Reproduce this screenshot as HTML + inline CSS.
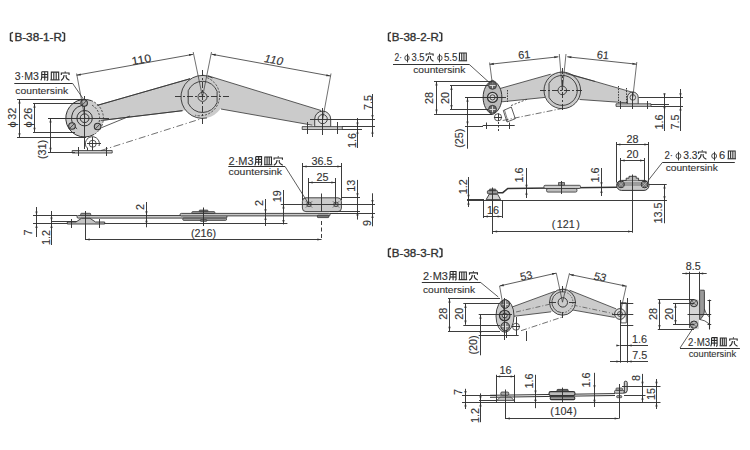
<!DOCTYPE html>
<html><head><meta charset="utf-8"><style>
html,body{margin:0;padding:0;background:#fff;width:750px;height:450px;overflow:hidden}
svg{display:block}
text{font-family:"Liberation Sans", sans-serif;stroke:#333;stroke-width:0.12px}
</style></head><body>
<svg width="750" height="450" viewBox="0 0 750 450">
<rect width="750" height="450" fill="#fff"/>
<path d="M13,32.4 L10.5,33.4 L10.5,40.4 L13,41.4" fill="none" stroke="#333" stroke-width="1.5" />
<text x="14.4" y="41.2" font-size="11.5" fill="#333" textLength="47.6" lengthAdjust="spacingAndGlyphs" style="stroke-width:0.35px">B-38-1-R</text>
<path d="M62,32.4 L64.5,33.4 L64.5,40.4 L62,41.4" fill="none" stroke="#333" stroke-width="1.5" />
<text x="14.8" y="79.9" font-size="10.6" text-anchor="start" fill="#333" textLength="24" lengthAdjust="spacingAndGlyphs">3·M3</text>
<path d="M0.14,0.04 L0.14,0.6 Q0.14,0.85 0.02,0.98" transform="translate(40.6 71.4) scale(8.1 9.2)" fill="none" stroke="#2a2a2a" stroke-width="1.1" vector-effect="non-scaling-stroke"/>
<path d="M0.14,0.04 L0.88,0.04 L0.88,0.9 Q0.88,0.97 0.74,0.96" transform="translate(40.6 71.4) scale(8.1 9.2)" fill="none" stroke="#2a2a2a" stroke-width="1.1" vector-effect="non-scaling-stroke"/>
<path d="M0.51,0.04 L0.51,0.98" transform="translate(40.6 71.4) scale(8.1 9.2)" fill="none" stroke="#2a2a2a" stroke-width="1.1" vector-effect="non-scaling-stroke"/>
<path d="M0.14,0.34 L0.88,0.34" transform="translate(40.6 71.4) scale(8.1 9.2)" fill="none" stroke="#2a2a2a" stroke-width="1.1" vector-effect="non-scaling-stroke"/>
<path d="M0.14,0.63 L0.88,0.63" transform="translate(40.6 71.4) scale(8.1 9.2)" fill="none" stroke="#2a2a2a" stroke-width="1.1" vector-effect="non-scaling-stroke"/>
<path d="M0.1,0.9 L0.1,0.08 L0.9,0.08 L0.9,0.9" transform="translate(50.4 71.4) scale(9.2 9.2)" fill="none" stroke="#2a2a2a" stroke-width="1.1" vector-effect="non-scaling-stroke"/>
<path d="M0.37,0.08 L0.37,0.9" transform="translate(50.4 71.4) scale(9.2 9.2)" fill="none" stroke="#2a2a2a" stroke-width="1.1" vector-effect="non-scaling-stroke"/>
<path d="M0.63,0.08 L0.63,0.9" transform="translate(50.4 71.4) scale(9.2 9.2)" fill="none" stroke="#2a2a2a" stroke-width="1.1" vector-effect="non-scaling-stroke"/>
<path d="M0.0,0.92 L1.0,0.92" transform="translate(50.4 71.4) scale(9.2 9.2)" fill="none" stroke="#2a2a2a" stroke-width="1.1" vector-effect="non-scaling-stroke"/>
<path d="M0.5,0.0 L0.5,0.14" transform="translate(60.8 71.4) scale(8.8 9.2)" fill="none" stroke="#2a2a2a" stroke-width="1.1" vector-effect="non-scaling-stroke"/>
<path d="M0.06,0.38 L0.06,0.18 L0.94,0.18 L0.94,0.38" transform="translate(60.8 71.4) scale(8.8 9.2)" fill="none" stroke="#2a2a2a" stroke-width="1.1" vector-effect="non-scaling-stroke"/>
<path d="M0.38,0.4 Q0.36,0.8 0.03,0.98" transform="translate(60.8 71.4) scale(8.8 9.2)" fill="none" stroke="#2a2a2a" stroke-width="1.1" vector-effect="non-scaling-stroke"/>
<path d="M0.6,0.4 L0.6,0.62 Q0.62,0.8 0.98,0.97" transform="translate(60.8 71.4) scale(8.8 9.2)" fill="none" stroke="#2a2a2a" stroke-width="1.1" vector-effect="non-scaling-stroke"/>
<line x1="14.3" y1="83.5" x2="72.4" y2="83.5" stroke="#333" stroke-width="1"/>
<line x1="72.4" y1="83.1" x2="84" y2="100" stroke="#333" stroke-width="0.8"/>
<text x="15.3" y="93.8" font-size="9.8" text-anchor="start" fill="#333" textLength="52.8" lengthAdjust="spacingAndGlyphs">countersink</text>
<polygon points="85,108.87 202,75.29 202,108.34 85,122.38" fill="#cbcbcb" stroke="none" stroke-width="0"/>
<line x1="97.1" y1="105.4" x2="190" y2="78.74" stroke="#333" stroke-width="0.8"/>
<line x1="100.7" y1="120.5" x2="182.5" y2="110.68" stroke="#333" stroke-width="0.8"/>
<polygon points="202,73.94 322,110.78 322,126.9 202,105.66" fill="#cbcbcb" stroke="none" stroke-width="0"/>
<circle cx="84.6" cy="118.2" r="18.8" fill="#cbcbcb" stroke="none" stroke-width="0"/>
<path d="M91.03,100.53 A18.8,18.8 0 1 0 94.00,134.48" fill="none" stroke="#333" stroke-width="1.0" />
<line x1="97.1" y1="105.4" x2="190" y2="78.74" stroke="#333" stroke-width="0.8"/>
<line x1="100.7" y1="120.5" x2="182.5" y2="110.68" stroke="#333" stroke-width="0.8"/>
<path d="M91.03,100.53 A18.8,18.8 0 0 1 94.00,134.48" fill="none" stroke="#333" stroke-width="0.8" stroke-dasharray="2.2,1.4" />
<path d="M81.24,105.64 A13,13 0 0 0 77.14,128.85" fill="none" stroke="#333" stroke-width="1.0" />
<path d="M92.10,105.21 A15,15 0 0 1 97.59,125.70" fill="none" stroke="#333" stroke-width="0.9" stroke-dasharray="2,1.5" />
<circle cx="84.6" cy="118.2" r="7.7" fill="none" stroke="#333" stroke-width="1.0"/>
<circle cx="84.6" cy="118.2" r="4.4" fill="none" stroke="#333" stroke-width="1.0"/>
<line x1="48" y1="118.5" x2="109" y2="118.5" stroke="#333" stroke-width="0.95"/>
<line x1="84.5" y1="96" x2="84.5" y2="149" stroke="#333" stroke-width="0.95"/>
<circle cx="84.1" cy="103.1" r="3.3" fill="#b0b0b0" stroke="#333" stroke-width="1.1"/>
<line x1="81.9" y1="105.3" x2="86.3" y2="100.9" stroke="#333" stroke-width="0.8"/>
<circle cx="72" cy="126" r="3.3" fill="#b0b0b0" stroke="#333" stroke-width="1.1"/>
<line x1="69.8" y1="128.2" x2="74.2" y2="123.8" stroke="#333" stroke-width="0.8"/>
<circle cx="97.6" cy="126.5" r="3.3" fill="#b0b0b0" stroke="#333" stroke-width="1.1"/>
<line x1="95.4" y1="128.7" x2="99.8" y2="124.3" stroke="#333" stroke-width="0.8"/>
<path d="M86.5,147.5 A7,7 0 1 1 99,146" fill="none" stroke="#333" stroke-width="0.9" />
<circle cx="92.7" cy="143.7" r="3.5" fill="none" stroke="#333" stroke-width="0.8"/>
<line x1="87" y1="143.5" x2="101" y2="143.5" stroke="#333" stroke-width="0.95"/>
<line x1="92.5" y1="137" x2="92.5" y2="153" stroke="#333" stroke-width="0.95"/>
<line x1="87.5" y1="147.5" x2="87.5" y2="151" stroke="#333" stroke-width="0.95"/>
<polygon points="72.2,150.5 112.2,150.5 112.2,153 72.2,153" fill="#cbcbcb" stroke="#333" stroke-width="0.8"/>
<line x1="78.5" y1="147" x2="78.5" y2="156" stroke="#333" stroke-width="0.95"/>
<line x1="106.5" y1="147" x2="106.5" y2="156" stroke="#333" stroke-width="0.95"/>
<line x1="101" y1="150.5" x2="202" y2="118.5" stroke="#333" stroke-width="0.7" stroke-dasharray="7,2.5,1.2,2.5"/>
<line x1="101.5" y1="127.7" x2="130" y2="116" stroke="#333" stroke-width="0.8"/>
<circle cx="202.5" cy="96.9" r="21.5" fill="#cbcbcb" stroke="none" stroke-width="0"/>
<path d="M212.59,77.92 A21.5,21.5 0 1 0 206.97,117.93" fill="none" stroke="#333" stroke-width="0.9" />
<path d="M207.27,77.79 A19.7,19.7 0 0 1 195.12,115.17" fill="none" stroke="#333" stroke-width="0.8" stroke-dasharray="2.2,1.4" />
<line x1="208" y1="75.79" x2="321" y2="110.48" stroke="#333" stroke-width="0.8"/>
<line x1="221" y1="109.02" x2="312.4" y2="125.2" stroke="#333" stroke-width="0.8"/>
<path d="M188.20,90.67 A15.6,15.6 0 0 1 217.10,91.40 L217.10,102.40 A15.6,15.6 0 0 1 188.20,103.13 Z" fill="none" stroke="#333" stroke-width="0.9" />
<circle cx="202.5" cy="96.9" r="4.5" fill="none" stroke="#333" stroke-width="0.9"/>
<line x1="175" y1="96.5" x2="229" y2="96.5" stroke="#333" stroke-width="0.95" stroke-dasharray="6,2,2,2"/>
<line x1="202.5" y1="70" x2="202.5" y2="124" stroke="#333" stroke-width="0.95" stroke-dasharray="6,2,2,2"/>
<path d="M314.7,127 L314.7,119.1 A8,8 0 0 1 330.7,119.1 L330.7,127 Z" fill="#ddd" stroke="#333" stroke-width="0.9" />
<circle cx="322.7" cy="119.1" r="4.6" fill="none" stroke="#333" stroke-width="0.9"/>
<polygon points="302.2,126.6 342.3,126.6 342.3,129.5 302.2,129.5" fill="#cbcbcb" stroke="#333" stroke-width="0.8"/>
<line x1="307.5" y1="122" x2="307.5" y2="134" stroke="#333" stroke-width="0.95"/>
<line x1="337.5" y1="122" x2="337.5" y2="134" stroke="#333" stroke-width="0.95"/>
<line x1="322.5" y1="108" x2="322.5" y2="135" stroke="#333" stroke-width="0.95"/>
<line x1="76.6" y1="75.2" x2="193.2" y2="54.3" stroke="#333" stroke-width="0.8"/>
<polygon points="76.6,75.2 80.54,73.38 80.93,75.54" fill="#333"/>
<polygon points="193.2,54.3 189.26,56.12 188.87,53.96" fill="#333"/>
<line x1="76.6" y1="73.5" x2="85" y2="118.4" stroke="#333" stroke-width="0.7"/>
<line x1="193.2" y1="52" x2="202.5" y2="96.9" stroke="#333" stroke-width="0.7"/>
<line x1="211.5" y1="52" x2="202.5" y2="96.9" stroke="#333" stroke-width="0.7"/>
<line x1="331" y1="73.5" x2="322.7" y2="119.1" stroke="#333" stroke-width="0.7"/>
<line x1="211.5" y1="54.2" x2="330.5" y2="76" stroke="#333" stroke-width="0.8"/>
<polygon points="211.5,54.2 215.83,53.87 215.43,56.04" fill="#333"/>
<polygon points="330.5,76 326.17,76.33 326.57,74.16" fill="#333"/>
<text x="0" y="0" font-size="11" fill="#333" text-anchor="middle" transform="translate(142 63.2) rotate(-10.2) scale(1.12 1)">110</text>
<text x="0" y="0" font-size="11" fill="#333" text-anchor="middle" transform="translate(272.6 63.4) rotate(10.6) skewX(-9) scale(1.08 1)">110</text>
<line x1="17" y1="99.5" x2="86" y2="99.5" stroke="#333" stroke-width="0.95"/>
<line x1="17" y1="137.5" x2="86" y2="137.5" stroke="#333" stroke-width="0.95"/>
<line x1="19.5" y1="99.4" x2="19.5" y2="137.4" stroke="#333" stroke-width="0.95"/>
<polygon points="19.5,99.4 20.6,103.6 18.4,103.6" fill="#333"/>
<polygon points="19.5,137.4 18.4,133.2 20.6,133.2" fill="#333"/>
<text x="0" y="0" font-size="10.1" text-anchor="middle" fill="#333" transform="translate(16.3 117.6) rotate(-90) scale(1.07 1)" >ϕ<tspan dx="1.6">32</tspan></text>
<line x1="33" y1="103.5" x2="80" y2="103.5" stroke="#333" stroke-width="0.95"/>
<line x1="33" y1="132.5" x2="75" y2="132.5" stroke="#333" stroke-width="0.95"/>
<line x1="34.5" y1="103.5" x2="34.5" y2="131.9" stroke="#333" stroke-width="0.95"/>
<polygon points="34.5,103.5 35.6,107.7 33.4,107.7" fill="#333"/>
<polygon points="34.5,131.9 33.4,127.7 35.6,127.7" fill="#333"/>
<text x="0" y="0" font-size="10.1" text-anchor="middle" fill="#333" transform="translate(31.5 117.6) rotate(-90) scale(1.07 1)" >ϕ<tspan dx="1.6">26</tspan></text>
<line x1="48" y1="118.5" x2="70" y2="118.5" stroke="#333" stroke-width="0.95"/>
<line x1="48" y1="152.5" x2="75" y2="152.5" stroke="#333" stroke-width="0.95"/>
<line x1="50.5" y1="118.3" x2="50.5" y2="152" stroke="#333" stroke-width="0.95"/>
<polygon points="50.5,118.3 51.6,122.5 49.4,122.5" fill="#333"/>
<polygon points="50.5,152 49.4,147.8 51.6,147.8" fill="#333"/>
<text x="0" y="0" font-size="10.1" text-anchor="middle" fill="#333" transform="translate(46.4 149.5) rotate(-90) scale(1.07 1)" >(31)</text>
<line x1="310" y1="119.5" x2="375" y2="119.5" stroke="#333" stroke-width="0.95"/>
<line x1="342" y1="126.5" x2="375" y2="126.5" stroke="#333" stroke-width="0.95"/>
<line x1="342" y1="129.5" x2="362" y2="129.5" stroke="#333" stroke-width="0.95"/>
<line x1="372.5" y1="94" x2="372.5" y2="137" stroke="#333" stroke-width="0.95"/>
<polygon points="372.5,119.1 371.4,114.9 373.6,114.9" fill="#333"/>
<polygon points="372.5,129.5 373.6,133.7 371.4,133.7" fill="#333"/>
<text x="0" y="0" font-size="10.1" text-anchor="middle" fill="#333" transform="translate(372.2 102.5) rotate(-90) scale(1.07 1)" >7.5</text>
<line x1="357.5" y1="118" x2="357.5" y2="148" stroke="#333" stroke-width="0.95"/>
<polygon points="357.5,126.6 356.4,122.4 358.6,122.4" fill="#333"/>
<polygon points="357.5,129.5 358.6,133.7 356.4,133.7" fill="#333"/>
<text x="0" y="0" font-size="10.1" text-anchor="middle" fill="#333" transform="translate(355.5 140.5) rotate(-90) scale(1.07 1)" >1.6</text>
<rect x="77" y="215.5" width="150" height="2.6" rx="1.2" fill="#c8c8c8" stroke="#333" stroke-width="0.9"/>
<line x1="33" y1="215.5" x2="77" y2="215.5" stroke="#333" stroke-width="0.95"/>
<line x1="33" y1="223.5" x2="287.4" y2="223.5" stroke="#333" stroke-width="0.95"/>
<line x1="51.6" y1="221.5" x2="77" y2="221.5" stroke="#333" stroke-width="0.95"/>
<path d="M67.3,224 L67.3,222 L76,222 L81.5,218.3 L90,218.3 L95.5,222 L104.7,222 L104.7,224 Z" fill="#c4c4c4" stroke="#333" stroke-width="0.9" />
<rect x="80.7" y="213.3" width="10" height="2.3" rx="0.8" fill="#999" stroke="#333" stroke-width="0.8"/>
<line x1="71.5" y1="219" x2="71.5" y2="228" stroke="#333" stroke-width="0.95"/>
<line x1="99.5" y1="219" x2="99.5" y2="228" stroke="#333" stroke-width="0.95"/>
<line x1="85.5" y1="211" x2="85.5" y2="240" stroke="#333" stroke-width="0.95"/>
<line x1="85.5" y1="239.5" x2="321.5" y2="239.5" stroke="#333" stroke-width="0.95"/>
<polygon points="85.5,239.5 89.7,238.4 89.7,240.6" fill="#333"/>
<polygon points="321.5,239.5 317.3,240.6 317.3,238.4" fill="#333"/>
<text x="0" y="0" font-size="10.1" text-anchor="middle" fill="#333" transform="translate(203.6 236.6) scale(1.07 1)" >(216)</text>
<rect x="180.1" y="213.4" width="150" height="2.5" rx="1.2" fill="#c8c8c8" stroke="#333" stroke-width="0.9"/>
<rect x="182.8" y="218.1" width="43.7" height="2.2" rx="0.8" fill="#aaa" stroke="#333" stroke-width="0.9"/>
<rect x="191.9" y="211.7" width="22.9" height="1.7" rx="0.6" fill="#aaa" stroke="#333" stroke-width="0.9"/>
<rect x="199.3" y="210.1" width="8.6" height="1.6" rx="0.5" fill="#888" stroke="#333" stroke-width="0.8"/>
<rect x="200.4" y="219.7" width="6.4" height="1.6" rx="0.5" fill="#888" stroke="#333" stroke-width="0.8"/>
<line x1="203.5" y1="207.5" x2="203.5" y2="226" stroke="#333" stroke-width="1.0"/>
<line x1="36.5" y1="207" x2="36.5" y2="237" stroke="#333" stroke-width="0.95"/>
<polygon points="36.5,215.6 35.4,211.4 37.6,211.4" fill="#333"/>
<polygon points="36.5,223.9 37.6,228.1 35.4,228.1" fill="#333"/>
<text x="0" y="0" font-size="10.1" text-anchor="middle" fill="#333" transform="translate(32.2 232.5) rotate(-90) scale(1.07 1)" >7</text>
<line x1="51.5" y1="211" x2="51.5" y2="245" stroke="#333" stroke-width="0.95"/>
<polygon points="51.5,221.7 50.4,217.5 52.6,217.5" fill="#333"/>
<polygon points="51.5,223.9 52.6,228.1 50.4,228.1" fill="#333"/>
<text x="0" y="0" font-size="10.1" text-anchor="middle" fill="#333" transform="translate(49.5 237.5) rotate(-90) scale(1.07 1)" >1.2</text>
<line x1="146.5" y1="202" x2="146.5" y2="227.3" stroke="#333" stroke-width="0.95"/>
<polygon points="146.5,215.5 145.4,211.3 147.6,211.3" fill="#333"/>
<polygon points="146.5,218.1 147.6,222.3 145.4,222.3" fill="#333"/>
<text x="0" y="0" font-size="10.1" text-anchor="middle" fill="#333" transform="translate(143.8 207) rotate(-90) scale(1.07 1)" >2</text>
<rect x="302.4" y="197.8" width="39" height="13.8" rx="3.5" fill="#cbcbcb" stroke="#333" stroke-width="0.9"/>
<circle cx="309" cy="204.4" r="2.3" fill="none" stroke="#333" stroke-width="0.8"/>
<line x1="305.8" y1="201.2" x2="312.2" y2="207.6" stroke="#333" stroke-width="0.6"/>
<line x1="305.8" y1="207.6" x2="312.2" y2="201.2" stroke="#333" stroke-width="0.6"/>
<circle cx="336" cy="204.4" r="2.3" fill="none" stroke="#333" stroke-width="0.8"/>
<line x1="332.8" y1="201.2" x2="339.2" y2="207.6" stroke="#333" stroke-width="0.6"/>
<line x1="332.8" y1="207.6" x2="339.2" y2="201.2" stroke="#333" stroke-width="0.6"/>
<line x1="321.5" y1="193.5" x2="321.5" y2="211.6" stroke="#333" stroke-width="0.95"/>
<rect x="317.4" y="215.2" width="11.4" height="2.4" rx="0.6" fill="#777" stroke="#333" stroke-width="0.8"/>
<line x1="321.5" y1="221" x2="321.5" y2="240" stroke="#333" stroke-width="0.95" stroke-dasharray="4,2.5"/>
<line x1="302.5" y1="163" x2="302.5" y2="200" stroke="#333" stroke-width="0.95"/>
<line x1="341.5" y1="163" x2="341.5" y2="200" stroke="#333" stroke-width="0.95"/>
<line x1="302.5" y1="166.5" x2="341.5" y2="166.5" stroke="#333" stroke-width="0.95"/>
<polygon points="302.5,166.5 306.7,165.4 306.7,167.6" fill="#333"/>
<polygon points="341.5,166.5 337.3,167.6 337.3,165.4" fill="#333"/>
<text x="0" y="0" font-size="10.1" text-anchor="middle" fill="#333" transform="translate(322 164.6) scale(1.07 1)" >36.5</text>
<line x1="308.5" y1="178" x2="308.5" y2="204" stroke="#333" stroke-width="0.95"/>
<line x1="335.5" y1="178" x2="335.5" y2="204" stroke="#333" stroke-width="0.95"/>
<line x1="308.5" y1="182.5" x2="335.5" y2="182.5" stroke="#333" stroke-width="0.95"/>
<polygon points="308.5,182.5 312.7,181.4 312.7,183.6" fill="#333"/>
<polygon points="335.5,182.5 331.3,183.6 331.3,181.4" fill="#333"/>
<text x="0" y="0" font-size="10.1" text-anchor="middle" fill="#333" transform="translate(322.6 180.6) scale(1.07 1)" >25</text>
<line x1="341.7" y1="197.5" x2="360" y2="197.5" stroke="#333" stroke-width="0.95"/>
<line x1="280.8" y1="204.5" x2="375" y2="204.5" stroke="#333" stroke-width="0.95"/>
<line x1="330" y1="211.5" x2="360" y2="211.5" stroke="#333" stroke-width="0.95"/>
<line x1="330" y1="213.5" x2="375" y2="213.5" stroke="#333" stroke-width="0.95"/>
<line x1="357.5" y1="179.9" x2="357.5" y2="219.6" stroke="#333" stroke-width="0.95"/>
<polygon points="357.5,197.4 356.4,193.2 358.6,193.2" fill="#333"/>
<polygon points="357.5,211.4 358.6,215.6 356.4,215.6" fill="#333"/>
<text x="0" y="0" font-size="10.1" text-anchor="middle" fill="#333" transform="translate(355.2 185.7) rotate(-90) scale(1.07 1)" >13</text>
<line x1="372.5" y1="193.3" x2="372.5" y2="226.3" stroke="#333" stroke-width="0.95"/>
<polygon points="372.5,204.3 371.4,200.1 373.6,200.1" fill="#333"/>
<polygon points="372.5,213.9 373.6,218.1 371.4,218.1" fill="#333"/>
<text x="0" y="0" font-size="10.1" text-anchor="middle" fill="#333" transform="translate(371 223) rotate(-90) scale(1.07 1)" >9</text>
<line x1="283.5" y1="190" x2="283.5" y2="224.4" stroke="#333" stroke-width="0.95"/>
<polygon points="283.5,204.3 284.6,208.5 282.4,208.5" fill="#333"/>
<polygon points="283.5,224.2 282.4,220 284.6,220" fill="#333"/>
<text x="0" y="0" font-size="10.1" text-anchor="middle" fill="#333" transform="translate(280.8 196.3) rotate(-90) scale(1.07 1)" >19</text>
<line x1="265.5" y1="199" x2="265.5" y2="226" stroke="#333" stroke-width="0.95"/>
<polygon points="265.5,213.4 264.4,209.2 266.6,209.2" fill="#333"/>
<polygon points="265.5,215.9 266.6,220.1 264.4,220.1" fill="#333"/>
<text x="0" y="0" font-size="10.1" text-anchor="middle" fill="#333" transform="translate(263.4 203) rotate(-90) scale(1.07 1)" >2</text>
<text x="228.6" y="164.8" font-size="10.6" text-anchor="start" fill="#333" textLength="25" lengthAdjust="spacingAndGlyphs">2·M3</text>
<path d="M0.14,0.04 L0.14,0.6 Q0.14,0.85 0.02,0.98" transform="translate(254.6 156.3) scale(7.9 9.2)" fill="none" stroke="#2a2a2a" stroke-width="1.1" vector-effect="non-scaling-stroke"/>
<path d="M0.14,0.04 L0.88,0.04 L0.88,0.9 Q0.88,0.97 0.74,0.96" transform="translate(254.6 156.3) scale(7.9 9.2)" fill="none" stroke="#2a2a2a" stroke-width="1.1" vector-effect="non-scaling-stroke"/>
<path d="M0.51,0.04 L0.51,0.98" transform="translate(254.6 156.3) scale(7.9 9.2)" fill="none" stroke="#2a2a2a" stroke-width="1.1" vector-effect="non-scaling-stroke"/>
<path d="M0.14,0.34 L0.88,0.34" transform="translate(254.6 156.3) scale(7.9 9.2)" fill="none" stroke="#2a2a2a" stroke-width="1.1" vector-effect="non-scaling-stroke"/>
<path d="M0.14,0.63 L0.88,0.63" transform="translate(254.6 156.3) scale(7.9 9.2)" fill="none" stroke="#2a2a2a" stroke-width="1.1" vector-effect="non-scaling-stroke"/>
<path d="M0.1,0.9 L0.1,0.08 L0.9,0.08 L0.9,0.9" transform="translate(264 156.3) scale(8.3 9.2)" fill="none" stroke="#2a2a2a" stroke-width="1.1" vector-effect="non-scaling-stroke"/>
<path d="M0.37,0.08 L0.37,0.9" transform="translate(264 156.3) scale(8.3 9.2)" fill="none" stroke="#2a2a2a" stroke-width="1.1" vector-effect="non-scaling-stroke"/>
<path d="M0.63,0.08 L0.63,0.9" transform="translate(264 156.3) scale(8.3 9.2)" fill="none" stroke="#2a2a2a" stroke-width="1.1" vector-effect="non-scaling-stroke"/>
<path d="M0.0,0.92 L1.0,0.92" transform="translate(264 156.3) scale(8.3 9.2)" fill="none" stroke="#2a2a2a" stroke-width="1.1" vector-effect="non-scaling-stroke"/>
<path d="M0.5,0.0 L0.5,0.14" transform="translate(273.5 156.3) scale(9.5 9.2)" fill="none" stroke="#2a2a2a" stroke-width="1.1" vector-effect="non-scaling-stroke"/>
<path d="M0.06,0.38 L0.06,0.18 L0.94,0.18 L0.94,0.38" transform="translate(273.5 156.3) scale(9.5 9.2)" fill="none" stroke="#2a2a2a" stroke-width="1.1" vector-effect="non-scaling-stroke"/>
<path d="M0.38,0.4 Q0.36,0.8 0.03,0.98" transform="translate(273.5 156.3) scale(9.5 9.2)" fill="none" stroke="#2a2a2a" stroke-width="1.1" vector-effect="non-scaling-stroke"/>
<path d="M0.6,0.4 L0.6,0.62 Q0.62,0.8 0.98,0.97" transform="translate(273.5 156.3) scale(9.5 9.2)" fill="none" stroke="#2a2a2a" stroke-width="1.1" vector-effect="non-scaling-stroke"/>
<line x1="228.3" y1="166.5" x2="285" y2="166.5" stroke="#333" stroke-width="1"/>
<line x1="285" y1="166.4" x2="309" y2="204.4" stroke="#333" stroke-width="0.8"/>
<text x="228.6" y="175.4" font-size="9.8" text-anchor="start" fill="#333" textLength="53.4" lengthAdjust="spacingAndGlyphs">countersink</text>
<path d="M391,32.4 L388.5,33.4 L388.5,40.4 L391,41.4" fill="none" stroke="#333" stroke-width="1.5" />
<text x="391.8" y="41.2" font-size="11.5" fill="#333" textLength="47" lengthAdjust="spacingAndGlyphs" style="stroke-width:0.35px">B-38-2-R</text>
<path d="M439.2,32.4 L441.7,33.4 L441.7,40.4 L439.2,41.4" fill="none" stroke="#333" stroke-width="1.5" />
<text x="394.5" y="60.8" font-size="10.6" text-anchor="start" fill="#333" textLength="7.5" lengthAdjust="spacingAndGlyphs">2·</text>
<ellipse cx="407" cy="58" rx="2.2" ry="2.5" fill="none" stroke="#333" stroke-width="0.85"/>
<line x1="407.5" y1="53.8" x2="407.5" y2="62.4" stroke="#333" stroke-width="0.95"/>
<text x="411.5" y="60.8" font-size="10.6" text-anchor="start" fill="#333" textLength="13.1" lengthAdjust="spacingAndGlyphs">3.5</text>
<path d="M0.5,0.0 L0.5,0.14" transform="translate(425.7 52.3) scale(7.9 9.2)" fill="none" stroke="#2a2a2a" stroke-width="1.1" vector-effect="non-scaling-stroke"/>
<path d="M0.06,0.38 L0.06,0.18 L0.94,0.18 L0.94,0.38" transform="translate(425.7 52.3) scale(7.9 9.2)" fill="none" stroke="#2a2a2a" stroke-width="1.1" vector-effect="non-scaling-stroke"/>
<path d="M0.38,0.4 Q0.36,0.8 0.03,0.98" transform="translate(425.7 52.3) scale(7.9 9.2)" fill="none" stroke="#2a2a2a" stroke-width="1.1" vector-effect="non-scaling-stroke"/>
<path d="M0.6,0.4 L0.6,0.62 Q0.62,0.8 0.98,0.97" transform="translate(425.7 52.3) scale(7.9 9.2)" fill="none" stroke="#2a2a2a" stroke-width="1.1" vector-effect="non-scaling-stroke"/>
<ellipse cx="439.9" cy="58" rx="2.2" ry="2.5" fill="none" stroke="#333" stroke-width="0.85"/>
<line x1="439.5" y1="53.8" x2="439.5" y2="62.4" stroke="#333" stroke-width="0.95"/>
<text x="443.9" y="60.8" font-size="10.6" text-anchor="start" fill="#333" textLength="13.6" lengthAdjust="spacingAndGlyphs">5.5</text>
<path d="M0.1,0.9 L0.1,0.08 L0.9,0.08 L0.9,0.9" transform="translate(458.6 52.3) scale(8.5 9.2)" fill="none" stroke="#2a2a2a" stroke-width="1.1" vector-effect="non-scaling-stroke"/>
<path d="M0.37,0.08 L0.37,0.9" transform="translate(458.6 52.3) scale(8.5 9.2)" fill="none" stroke="#2a2a2a" stroke-width="1.1" vector-effect="non-scaling-stroke"/>
<path d="M0.63,0.08 L0.63,0.9" transform="translate(458.6 52.3) scale(8.5 9.2)" fill="none" stroke="#2a2a2a" stroke-width="1.1" vector-effect="non-scaling-stroke"/>
<path d="M0.0,0.92 L1.0,0.92" transform="translate(458.6 52.3) scale(8.5 9.2)" fill="none" stroke="#2a2a2a" stroke-width="1.1" vector-effect="non-scaling-stroke"/>
<line x1="393" y1="64.5" x2="469" y2="64.5" stroke="#333" stroke-width="1"/>
<line x1="469" y1="64.2" x2="492" y2="85" stroke="#333" stroke-width="0.8"/>
<text x="413.2" y="73.2" font-size="9.8" text-anchor="start" fill="#333" textLength="52.2" lengthAdjust="spacingAndGlyphs">countersink</text>
<polygon points="492,90.76 562,71.02 562,95.68 492,102.82" fill="#cbcbcb" stroke="none" stroke-width="0"/>
<line x1="500" y1="88.5" x2="550.7" y2="74.2" stroke="#333" stroke-width="0.8"/>
<line x1="502" y1="101.8" x2="545" y2="97.41" stroke="#333" stroke-width="0.8"/>
<polygon points="562,71.89 633,92.41 633,103.23 562,98.26" fill="#cbcbcb" stroke="none" stroke-width="0"/>
<line x1="565.5" y1="72.9" x2="633" y2="92.41" stroke="#333" stroke-width="0.8"/>
<line x1="579.7" y1="99.5" x2="629.5" y2="102.99" stroke="#333" stroke-width="0.8"/>
<line x1="507.5" y1="90" x2="507.5" y2="102" stroke="#333" stroke-width="0.95" stroke-dasharray="1.5,1.2"/>
<line x1="511" y1="105.6" x2="527" y2="99.3" stroke="#333" stroke-width="0.8" stroke-dasharray="2.2,1.6"/>
<line x1="618.5" y1="86" x2="618.5" y2="103" stroke="#333" stroke-width="0.95" stroke-dasharray="1.5,1.2"/>
<line x1="626.5" y1="88" x2="626.5" y2="104" stroke="#333" stroke-width="0.95" stroke-dasharray="1.5,1.2"/>
<path d="M492.5,80.3 C480.0,85.4 480.0,109.4 492.5,114.5 C505.0,109.4 505.0,85.4 492.5,80.3 Z" fill="#bababa" stroke="#333" stroke-width="1.0" />
<circle cx="492.5" cy="85.3" r="4" fill="#666" stroke="#333" stroke-width="0.8"/>
<line x1="489.5" y1="85.5" x2="495.5" y2="85.5" stroke="#ddd" stroke-width="0.95"/>
<line x1="492.5" y1="82.3" x2="492.5" y2="88.3" stroke="#ddd" stroke-width="0.95"/>
<circle cx="492.5" cy="109.3" r="4" fill="#666" stroke="#333" stroke-width="0.8"/>
<line x1="489.5" y1="109.5" x2="495.5" y2="109.5" stroke="#ddd" stroke-width="0.95"/>
<line x1="492.5" y1="106.3" x2="492.5" y2="112.3" stroke="#ddd" stroke-width="0.95"/>
<circle cx="492.5" cy="97.4" r="5" fill="#d8d8d8" stroke="#333" stroke-width="1.3"/>
<circle cx="492.5" cy="97.4" r="2.6" fill="none" stroke="#333" stroke-width="0.9"/>
<line x1="465" y1="97.5" x2="506" y2="97.5" stroke="#333" stroke-width="0.95"/>
<circle cx="498" cy="117.3" r="3.6" fill="#fff" stroke="#333" stroke-width="0.8"/>
<line x1="494" y1="117.5" x2="502" y2="117.5" stroke="#333" stroke-width="0.95"/>
<line x1="498.5" y1="113.5" x2="498.5" y2="121" stroke="#333" stroke-width="0.95"/>
<polygon points="503.3,110.5 511.3,107 515.3,118.7 507,122" fill="none" stroke="#333" stroke-width="0.8"/>
<line x1="504.5" y1="110" x2="508" y2="121.5" stroke="#333" stroke-width="0.6"/>
<line x1="482.7" y1="125.5" x2="514.7" y2="125.5" stroke="#333" stroke-width="0.95"/>
<line x1="486.5" y1="122.5" x2="486.5" y2="129" stroke="#333" stroke-width="0.95"/>
<line x1="509.5" y1="122.5" x2="509.5" y2="129" stroke="#333" stroke-width="0.95"/>
<line x1="498.5" y1="122" x2="498.5" y2="131" stroke="#333" stroke-width="0.95" stroke-dasharray="2,1.5"/>
<line x1="502.7" y1="120.5" x2="562.5" y2="108.4" stroke="#333" stroke-width="0.7" stroke-dasharray="6,2,1.2,2"/>
<circle cx="562.3" cy="90.4" r="18.3" fill="#cbcbcb" stroke="#333" stroke-width="0.9"/>
<line x1="565.5" y1="73.4" x2="595" y2="81.43" stroke="#333" stroke-width="0.8"/>
<path d="M549.00,83.46 A15.0,15.0 0 1 1 549.00,97.34 Z" fill="none" stroke="#333" stroke-width="0.9" />
<circle cx="562.3" cy="90.4" r="4.3" fill="none" stroke="#333" stroke-width="0.9"/>
<line x1="540" y1="90.5" x2="584" y2="90.5" stroke="#333" stroke-width="0.95" stroke-dasharray="6,2,2,2"/>
<line x1="562.5" y1="68" x2="562.5" y2="112" stroke="#333" stroke-width="0.95" stroke-dasharray="6,2,2,2"/>
<path d="M627.4,105 L627.4,97.4 A5.4,5.4 0 0 1 638.1999999999999,97.4 L638.1999999999999,105 Z" fill="#ddd" stroke="#333" stroke-width="0.9" />
<circle cx="632.8" cy="97.4" r="2.8" fill="none" stroke="#333" stroke-width="0.8"/>
<polygon points="616,103.8 651,103.8 651,106.4 616,106.4" fill="#cbcbcb" stroke="#333" stroke-width="0.8"/>
<line x1="620.5" y1="101" x2="620.5" y2="109" stroke="#333" stroke-width="0.95"/>
<line x1="647.5" y1="101" x2="647.5" y2="109" stroke="#333" stroke-width="0.95"/>
<line x1="632.5" y1="92" x2="632.5" y2="109" stroke="#333" stroke-width="0.95"/>
<line x1="489.6" y1="64.3" x2="558.4" y2="56.8" stroke="#333" stroke-width="0.8"/>
<polygon points="489.6,64.3 493.66,62.75 493.89,64.94" fill="#333"/>
<polygon points="558.4,56.8 554.34,58.35 554.11,56.16" fill="#333"/>
<line x1="489.6" y1="62.5" x2="492.5" y2="85" stroke="#333" stroke-width="0.7"/>
<line x1="559.3" y1="54" x2="562.3" y2="90.4" stroke="#333" stroke-width="0.7"/>
<line x1="566" y1="54" x2="562.3" y2="90.4" stroke="#333" stroke-width="0.7"/>
<line x1="567.2" y1="56.8" x2="636.6" y2="64.2" stroke="#333" stroke-width="0.8"/>
<polygon points="567.2,56.8 571.49,56.15 571.26,58.34" fill="#333"/>
<polygon points="636.6,64.2 632.31,64.85 632.54,62.66" fill="#333"/>
<line x1="636.8" y1="62" x2="632.8" y2="97.4" stroke="#333" stroke-width="0.7"/>
<text x="0" y="0" font-size="11" fill="#333" text-anchor="middle" transform="translate(524.5 58.6) rotate(-4.8)">61</text>
<text x="0" y="0" font-size="11" fill="#333" text-anchor="middle" transform="translate(602.5 58.8) rotate(5.7)">61</text>
<line x1="434" y1="81.5" x2="492" y2="81.5" stroke="#333" stroke-width="0.95"/>
<line x1="434" y1="114.5" x2="492" y2="114.5" stroke="#333" stroke-width="0.95"/>
<line x1="436.5" y1="81.3" x2="436.5" y2="113.8" stroke="#333" stroke-width="0.95"/>
<polygon points="436.5,81.3 437.6,85.5 435.4,85.5" fill="#333"/>
<polygon points="436.5,113.8 435.4,109.6 437.6,109.6" fill="#333"/>
<text x="0" y="0" font-size="10.1" text-anchor="middle" fill="#333" transform="translate(433.3 98) rotate(-90) scale(1.07 1)" >28</text>
<line x1="450" y1="85.5" x2="488" y2="85.5" stroke="#333" stroke-width="0.95"/>
<line x1="450" y1="109.5" x2="488" y2="109.5" stroke="#333" stroke-width="0.95"/>
<line x1="451.5" y1="85.8" x2="451.5" y2="109.1" stroke="#333" stroke-width="0.95"/>
<polygon points="451.5,85.8 452.6,90 450.4,90" fill="#333"/>
<polygon points="451.5,109.1 450.4,104.9 452.6,104.9" fill="#333"/>
<text x="0" y="0" font-size="10.1" text-anchor="middle" fill="#333" transform="translate(449 98) rotate(-90) scale(1.07 1)" >20</text>
<line x1="465.3" y1="97.5" x2="504" y2="97.5" stroke="#333" stroke-width="0.95"/>
<line x1="465" y1="126.5" x2="483" y2="126.5" stroke="#333" stroke-width="0.95"/>
<line x1="465" y1="114.5" x2="492" y2="114.5" stroke="#333" stroke-width="0.95"/>
<line x1="467.5" y1="97.5" x2="467.5" y2="125.8" stroke="#333" stroke-width="0.95"/>
<polygon points="467.5,97.5 468.6,101.7 466.4,101.7" fill="#333"/>
<polygon points="467.5,125.8 466.4,121.6 468.6,121.6" fill="#333"/>
<line x1="467.5" y1="125.8" x2="467.5" y2="148.7" stroke="#333" stroke-width="0.95"/>
<text x="0" y="0" font-size="10.1" text-anchor="middle" fill="#333" transform="translate(463.2 138.2) rotate(-90) scale(1.07 1)" >(25)</text>
<line x1="638.5" y1="97.5" x2="683" y2="97.5" stroke="#333" stroke-width="0.95"/>
<line x1="651" y1="106.5" x2="683" y2="106.5" stroke="#333" stroke-width="0.95"/>
<line x1="651" y1="104.5" x2="669" y2="104.5" stroke="#333" stroke-width="0.95"/>
<line x1="664.5" y1="93.8" x2="664.5" y2="131" stroke="#333" stroke-width="0.95"/>
<polygon points="664.5,97.4 663.4,93.2 665.6,93.2" fill="#333"/>
<polygon points="664.5,104 665.6,108.2 663.4,108.2" fill="#333"/>
<text x="0" y="0" font-size="10.1" text-anchor="middle" fill="#333" transform="translate(663.2 122) rotate(-90) scale(1.07 1)" >1.6</text>
<line x1="680.5" y1="89" x2="680.5" y2="131" stroke="#333" stroke-width="0.95"/>
<polygon points="680.5,97.4 679.4,93.2 681.6,93.2" fill="#333"/>
<polygon points="680.5,106.4 681.6,110.6 679.4,110.6" fill="#333"/>
<text x="0" y="0" font-size="10.1" text-anchor="middle" fill="#333" transform="translate(678.5 122) rotate(-90) scale(1.07 1)" >7.5</text>
<line x1="467" y1="200.5" x2="667" y2="200.5" stroke="#333" stroke-width="0.95"/>
<line x1="467" y1="199.5" x2="484" y2="199.5" stroke="#333" stroke-width="0.95"/>
<path d="M486.1,199.6 L489.3,194.2 L497.6,194.2 L500.6,199.6 Z" fill="#d0d0d0" stroke="#333" stroke-width="0.9" />
<rect x="487.4" y="190.6" width="10.2" height="3.2" rx="1" fill="#9a9a9a" stroke="#333" stroke-width="0.9"/>
<rect x="489.4" y="189" width="6.4" height="1.6" rx="0.5" fill="#777" stroke="#333" stroke-width="0.7"/>
<line x1="492.5" y1="187.5" x2="492.5" y2="234" stroke="#333" stroke-width="0.95"/>
<line x1="483.5" y1="200" x2="483.5" y2="218" stroke="#333" stroke-width="0.95"/>
<line x1="502.5" y1="200" x2="502.5" y2="218" stroke="#333" stroke-width="0.95"/>
<line x1="483.7" y1="216.5" x2="501.8" y2="216.5" stroke="#333" stroke-width="0.95"/>
<polygon points="483.7,216.5 487.9,215.4 487.9,217.6" fill="#333"/>
<polygon points="501.8,216.5 497.6,217.6 497.6,215.4" fill="#333"/>
<text x="0" y="0" font-size="10.1" text-anchor="middle" fill="#333" transform="translate(493 213.8) scale(1.07 1)" >16</text>
<path d="M497.8,192.7 L502.8,192.7 L507.8,188.5 L617,187.2" fill="none" stroke="#333" stroke-width="1.6" />
<rect x="543.9" y="185.3" width="36.6" height="3.2" rx="1.2" fill="#cbcbcb" stroke="#333" stroke-width="0.8"/>
<rect x="546.5" y="188.5" width="30.5" height="3.6" rx="1.5" fill="#bdbdbd" stroke="#333" stroke-width="0.8"/>
<polygon points="558.5,182.5 564.5,182.5 564.5,185.3 558.5,185.3" fill="#999" stroke="#333" stroke-width="0.7"/>
<line x1="561.5" y1="181" x2="561.5" y2="194" stroke="#333" stroke-width="0.95"/>
<line x1="526.5" y1="168" x2="526.5" y2="198" stroke="#333" stroke-width="0.95"/>
<polygon points="526.5,189 525.4,184.8 527.6,184.8" fill="#333"/>
<polygon points="526.5,190.5 527.6,194.7 525.4,194.7" fill="#333"/>
<text x="0" y="0" font-size="10.1" text-anchor="middle" fill="#333" transform="translate(523.4 175) rotate(-90) scale(1.07 1)" >1.6</text>
<line x1="601.5" y1="168" x2="601.5" y2="196" stroke="#333" stroke-width="0.95"/>
<polygon points="601.5,186.4 600.4,182.2 602.6,182.2" fill="#333"/>
<polygon points="601.5,188.7 602.6,192.9 600.4,192.9" fill="#333"/>
<text x="0" y="0" font-size="10.1" text-anchor="middle" fill="#333" transform="translate(599.3 175) rotate(-90) scale(1.07 1)" >1.6</text>
<line x1="468.5" y1="177" x2="468.5" y2="207" stroke="#333" stroke-width="0.95"/>
<polygon points="468.5,199 467.4,194.8 469.6,194.8" fill="#333"/>
<polygon points="468.5,200.5 469.6,204.7 467.4,204.7" fill="#333"/>
<text x="0" y="0" font-size="10.1" text-anchor="middle" fill="#333" transform="translate(466.5 186.7) rotate(-90) scale(1.07 1)" >1.2</text>
<line x1="492.9" y1="231.5" x2="632.2" y2="231.5" stroke="#333" stroke-width="0.95"/>
<polygon points="492.9,231.5 497.1,230.4 497.1,232.6" fill="#333"/>
<polygon points="632.2,231.5 628,232.6 628,230.4" fill="#333"/>
<text x="0" y="0" font-size="10.1" text-anchor="middle" fill="#333" transform="translate(565.8 227.9) scale(1.07 1)" >(<tspan dx="1.2">121</tspan><tspan dx="1.4">)</tspan></text>
<rect x="616.6" y="180.4" width="32.4" height="10" rx="5" fill="#c8c8c8" stroke="#333" stroke-width="1"/>
<path d="M619,182 L647,182 L647,186 L619,186 Z" fill="#9c9c9c" stroke="none" stroke-width="0" />
<circle cx="621" cy="184.4" r="3.4" fill="#777" stroke="#333" stroke-width="1.0"/>
<line x1="618.6" y1="182" x2="623.4" y2="186.8" stroke="#ccc" stroke-width="0.6"/>
<line x1="618.6" y1="186.8" x2="623.4" y2="182" stroke="#ccc" stroke-width="0.6"/>
<circle cx="644.6" cy="184.4" r="3.4" fill="#777" stroke="#333" stroke-width="1.0"/>
<line x1="642.2" y1="182" x2="647" y2="186.8" stroke="#ccc" stroke-width="0.6"/>
<line x1="642.2" y1="186.8" x2="647" y2="182" stroke="#ccc" stroke-width="0.6"/>
<path d="M626.2,180.6 L626.2,178.2 L629,178.2 L629,176.3 L636.2,176.3 L636.2,178.2 L638.6,178.2 L638.6,180.6" fill="#bbb" stroke="#333" stroke-width="0.9" />
<line x1="632.5" y1="174.5" x2="632.5" y2="232.7" stroke="#333" stroke-width="0.95"/>
<line x1="616.5" y1="142" x2="616.5" y2="182.6" stroke="#333" stroke-width="0.95"/>
<line x1="648.5" y1="142" x2="648.5" y2="182.6" stroke="#333" stroke-width="0.95"/>
<line x1="616.2" y1="144.5" x2="648.6" y2="144.5" stroke="#333" stroke-width="0.95"/>
<polygon points="616.2,144.5 620.4,143.4 620.4,145.6" fill="#333"/>
<polygon points="648.6,144.5 644.4,145.6 644.4,143.4" fill="#333"/>
<text x="0" y="0" font-size="10.1" text-anchor="middle" fill="#333" transform="translate(632.6 143) scale(1.07 1)" >28</text>
<line x1="620.5" y1="158" x2="620.5" y2="182" stroke="#333" stroke-width="0.95"/>
<line x1="644.5" y1="158" x2="644.5" y2="182" stroke="#333" stroke-width="0.95"/>
<line x1="620.5" y1="160.5" x2="644.2" y2="160.5" stroke="#333" stroke-width="0.95"/>
<polygon points="620.5,160.5 624.7,159.4 624.7,161.6" fill="#333"/>
<polygon points="644.2,160.5 640,161.6 640,159.4" fill="#333"/>
<text x="0" y="0" font-size="10.1" text-anchor="middle" fill="#333" transform="translate(632.4 158.3) scale(1.07 1)" >20</text>
<text x="664.5" y="158.8" font-size="10.6" text-anchor="start" fill="#333" textLength="8.5" lengthAdjust="spacingAndGlyphs">2·</text>
<ellipse cx="678.45" cy="156" rx="2.45" ry="2.5" fill="none" stroke="#333" stroke-width="0.85"/>
<line x1="678.5" y1="151.8" x2="678.5" y2="160.4" stroke="#333" stroke-width="0.95"/>
<text x="683.2" y="158.8" font-size="10.6" text-anchor="start" fill="#333" textLength="14.3" lengthAdjust="spacingAndGlyphs">3.3</text>
<path d="M0.5,0.0 L0.5,0.14" transform="translate(698 150.3) scale(8.5 9.2)" fill="none" stroke="#2a2a2a" stroke-width="1.1" vector-effect="non-scaling-stroke"/>
<path d="M0.06,0.38 L0.06,0.18 L0.94,0.18 L0.94,0.38" transform="translate(698 150.3) scale(8.5 9.2)" fill="none" stroke="#2a2a2a" stroke-width="1.1" vector-effect="non-scaling-stroke"/>
<path d="M0.38,0.4 Q0.36,0.8 0.03,0.98" transform="translate(698 150.3) scale(8.5 9.2)" fill="none" stroke="#2a2a2a" stroke-width="1.1" vector-effect="non-scaling-stroke"/>
<path d="M0.6,0.4 L0.6,0.62 Q0.62,0.8 0.98,0.97" transform="translate(698 150.3) scale(8.5 9.2)" fill="none" stroke="#2a2a2a" stroke-width="1.1" vector-effect="non-scaling-stroke"/>
<ellipse cx="714.15" cy="156" rx="2.45" ry="2.5" fill="none" stroke="#333" stroke-width="0.85"/>
<line x1="714.5" y1="151.8" x2="714.5" y2="160.4" stroke="#333" stroke-width="0.95"/>
<text x="719" y="158.8" font-size="10.6" text-anchor="start" fill="#333" textLength="6.2" lengthAdjust="spacingAndGlyphs">6</text>
<path d="M0.1,0.9 L0.1,0.08 L0.9,0.08 L0.9,0.9" transform="translate(727.5 150.3) scale(8.5 9.2)" fill="none" stroke="#2a2a2a" stroke-width="1.1" vector-effect="non-scaling-stroke"/>
<path d="M0.37,0.08 L0.37,0.9" transform="translate(727.5 150.3) scale(8.5 9.2)" fill="none" stroke="#2a2a2a" stroke-width="1.1" vector-effect="non-scaling-stroke"/>
<path d="M0.63,0.08 L0.63,0.9" transform="translate(727.5 150.3) scale(8.5 9.2)" fill="none" stroke="#2a2a2a" stroke-width="1.1" vector-effect="non-scaling-stroke"/>
<path d="M0.0,0.92 L1.0,0.92" transform="translate(727.5 150.3) scale(8.5 9.2)" fill="none" stroke="#2a2a2a" stroke-width="1.1" vector-effect="non-scaling-stroke"/>
<line x1="662.3" y1="162.5" x2="734.8" y2="162.5" stroke="#333" stroke-width="1"/>
<line x1="662.3" y1="162.5" x2="647.8" y2="181" stroke="#333" stroke-width="0.8"/>
<text x="665.7" y="171.2" font-size="9.8" text-anchor="start" fill="#333" textLength="52.1" lengthAdjust="spacingAndGlyphs">countersink</text>
<line x1="649" y1="184.5" x2="666.7" y2="184.5" stroke="#333" stroke-width="0.95"/>
<line x1="664.5" y1="184.4" x2="664.5" y2="223.3" stroke="#333" stroke-width="0.95"/>
<polygon points="664.5,184.4 665.6,188.6 663.4,188.6" fill="#333"/>
<polygon points="664.5,200.5 663.4,196.3 665.6,196.3" fill="#333"/>
<text x="0" y="0" font-size="10.1" text-anchor="middle" fill="#333" transform="translate(662 213) rotate(-90) scale(1.07 1)" >13.5</text>
<path d="M391,248.2 L388.5,249.2 L388.5,256.2 L391,257.2" fill="none" stroke="#333" stroke-width="1.5" />
<text x="391.8" y="257" font-size="11.5" fill="#333" textLength="47" lengthAdjust="spacingAndGlyphs" style="stroke-width:0.35px">B-38-3-R</text>
<path d="M439.4,248.2 L441.9,249.2 L441.9,256.2 L439.4,257.2" fill="none" stroke="#333" stroke-width="1.5" />
<text x="423" y="279.7" font-size="10.6" text-anchor="start" fill="#333" textLength="24.9" lengthAdjust="spacingAndGlyphs">2·M3</text>
<path d="M0.14,0.04 L0.14,0.6 Q0.14,0.85 0.02,0.98" transform="translate(449 271.2) scale(8 9.2)" fill="none" stroke="#2a2a2a" stroke-width="1.1" vector-effect="non-scaling-stroke"/>
<path d="M0.14,0.04 L0.88,0.04 L0.88,0.9 Q0.88,0.97 0.74,0.96" transform="translate(449 271.2) scale(8 9.2)" fill="none" stroke="#2a2a2a" stroke-width="1.1" vector-effect="non-scaling-stroke"/>
<path d="M0.51,0.04 L0.51,0.98" transform="translate(449 271.2) scale(8 9.2)" fill="none" stroke="#2a2a2a" stroke-width="1.1" vector-effect="non-scaling-stroke"/>
<path d="M0.14,0.34 L0.88,0.34" transform="translate(449 271.2) scale(8 9.2)" fill="none" stroke="#2a2a2a" stroke-width="1.1" vector-effect="non-scaling-stroke"/>
<path d="M0.14,0.63 L0.88,0.63" transform="translate(449 271.2) scale(8 9.2)" fill="none" stroke="#2a2a2a" stroke-width="1.1" vector-effect="non-scaling-stroke"/>
<path d="M0.1,0.9 L0.1,0.08 L0.9,0.08 L0.9,0.9" transform="translate(458.6 271.2) scale(8.6 9.2)" fill="none" stroke="#2a2a2a" stroke-width="1.1" vector-effect="non-scaling-stroke"/>
<path d="M0.37,0.08 L0.37,0.9" transform="translate(458.6 271.2) scale(8.6 9.2)" fill="none" stroke="#2a2a2a" stroke-width="1.1" vector-effect="non-scaling-stroke"/>
<path d="M0.63,0.08 L0.63,0.9" transform="translate(458.6 271.2) scale(8.6 9.2)" fill="none" stroke="#2a2a2a" stroke-width="1.1" vector-effect="non-scaling-stroke"/>
<path d="M0.0,0.92 L1.0,0.92" transform="translate(458.6 271.2) scale(8.6 9.2)" fill="none" stroke="#2a2a2a" stroke-width="1.1" vector-effect="non-scaling-stroke"/>
<path d="M0.5,0.0 L0.5,0.14" transform="translate(468.9 271.2) scale(9.1 9.2)" fill="none" stroke="#2a2a2a" stroke-width="1.1" vector-effect="non-scaling-stroke"/>
<path d="M0.06,0.38 L0.06,0.18 L0.94,0.18 L0.94,0.38" transform="translate(468.9 271.2) scale(9.1 9.2)" fill="none" stroke="#2a2a2a" stroke-width="1.1" vector-effect="non-scaling-stroke"/>
<path d="M0.38,0.4 Q0.36,0.8 0.03,0.98" transform="translate(468.9 271.2) scale(9.1 9.2)" fill="none" stroke="#2a2a2a" stroke-width="1.1" vector-effect="non-scaling-stroke"/>
<path d="M0.6,0.4 L0.6,0.62 Q0.62,0.8 0.98,0.97" transform="translate(468.9 271.2) scale(9.1 9.2)" fill="none" stroke="#2a2a2a" stroke-width="1.1" vector-effect="non-scaling-stroke"/>
<line x1="421.8" y1="282.5" x2="480.8" y2="282.5" stroke="#333" stroke-width="1"/>
<line x1="480.8" y1="282.6" x2="498.3" y2="297" stroke="#333" stroke-width="0.8"/>
<text x="423" y="292.8" font-size="9.8" text-anchor="start" fill="#333" textLength="52" lengthAdjust="spacingAndGlyphs">countersink</text>
<polygon points="505,309.6 562,288.73 562,310.52 505,317.36" fill="#cbcbcb" stroke="none" stroke-width="0"/>
<line x1="511" y1="307.4" x2="554.7" y2="291.41" stroke="#333" stroke-width="0.8"/>
<line x1="513.8" y1="316.3" x2="551" y2="311.84" stroke="#333" stroke-width="0.8"/>
<polygon points="562,287.2 620,310.4 620,318.37 562,308.11" fill="#cbcbcb" stroke="none" stroke-width="0"/>
<line x1="569.5" y1="290.2" x2="616.2" y2="308.88" stroke="#333" stroke-width="0.8"/>
<line x1="571" y1="309.7" x2="614.6" y2="317.42" stroke="#333" stroke-width="0.8"/>
<line x1="572.7" y1="305" x2="613" y2="313.5" stroke="#333" stroke-width="0.6" stroke-dasharray="5,2,1,2"/>
<line x1="516" y1="312" x2="555" y2="303" stroke="#333" stroke-width="0.6" stroke-dasharray="5,2,1,2"/>
<ellipse cx="505.0" cy="316" rx="9" ry="16.3" fill="#cbcbcb" stroke="#333" stroke-width="0.9"/>
<circle cx="505.2" cy="304" r="4.3" fill="#8a8a8a" stroke="#333" stroke-width="1.0"/>
<line x1="501.7" y1="304.5" x2="508.3" y2="304.5" stroke="#ddd" stroke-width="0.95"/>
<line x1="505.5" y1="300.5" x2="505.5" y2="307.5" stroke="#ddd" stroke-width="0.95"/>
<circle cx="505.2" cy="326.5" r="4.3" fill="#8a8a8a" stroke="#333" stroke-width="1.0"/>
<line x1="501.7" y1="326.5" x2="508.3" y2="326.5" stroke="#ddd" stroke-width="0.95"/>
<line x1="505.5" y1="323" x2="505.5" y2="330" stroke="#ddd" stroke-width="0.95"/>
<circle cx="504.7" cy="315.5" r="5.3" fill="#aaa" stroke="#333" stroke-width="1.1"/>
<circle cx="504.7" cy="315.5" r="2.4" fill="#ddd" stroke="#333" stroke-width="0.9"/>
<line x1="478.7" y1="314.5" x2="512" y2="314.5" stroke="#333" stroke-width="0.95"/>
<line x1="504.5" y1="298" x2="504.5" y2="340" stroke="#333" stroke-width="0.95"/>
<circle cx="516" cy="326.7" r="3.5" fill="#fff" stroke="#333" stroke-width="0.8"/>
<line x1="512" y1="326.5" x2="520" y2="326.5" stroke="#333" stroke-width="0.95"/>
<line x1="516.5" y1="317" x2="516.5" y2="335" stroke="#333" stroke-width="0.95"/>
<line x1="478.7" y1="335.5" x2="518.7" y2="335.5" stroke="#333" stroke-width="0.95"/>
<line x1="506.5" y1="330" x2="506.5" y2="338" stroke="#333" stroke-width="0.95"/>
<line x1="526.5" y1="331" x2="526.5" y2="341" stroke="#333" stroke-width="0.95"/>
<line x1="521" y1="330.7" x2="562.5" y2="317" stroke="#333" stroke-width="0.7" stroke-dasharray="6,2,1.2,2"/>
<circle cx="562.5" cy="302.2" r="13" fill="#cbcbcb" stroke="#333" stroke-width="0.9"/>
<path d="M564.5,291.9 A10.5,10.5 0 1 0 561.5,312.65" fill="none" stroke="#333" stroke-width="0.8" />
<path d="M564.5,291.9 A10.5,10.5 0 0 1 561.5,312.65" fill="none" stroke="#333" stroke-width="0.7" stroke-dasharray="1.6,1.3" />
<circle cx="562.8" cy="302.4" r="4.7" fill="none" stroke="#333" stroke-width="0.95"/>
<line x1="549" y1="302.5" x2="556" y2="302.5" stroke="#333" stroke-width="0.95"/>
<line x1="569" y1="302.5" x2="576" y2="302.5" stroke="#333" stroke-width="0.95"/>
<line x1="562.5" y1="286" x2="562.5" y2="292" stroke="#333" stroke-width="0.95"/>
<line x1="562.5" y1="312" x2="562.5" y2="318" stroke="#333" stroke-width="0.95"/>
<circle cx="620" cy="314" r="5.4" fill="#ddd" stroke="#333" stroke-width="0.9"/>
<circle cx="620" cy="314" r="2.5" fill="none" stroke="#333" stroke-width="0.8"/>
<line x1="612" y1="314.5" x2="620" y2="314.5" stroke="#333" stroke-width="0.95"/>
<polygon points="620.9,302.7 626.3,302.7 626.3,322.9 620.9,322.9" fill="none" stroke="#333" stroke-width="0.8"/>
<line x1="620.5" y1="300" x2="620.5" y2="362.7" stroke="#333" stroke-width="0.95"/>
<line x1="627.5" y1="298" x2="627.5" y2="362.7" stroke="#333" stroke-width="0.95"/>
<line x1="620.9" y1="303.5" x2="633.3" y2="303.5" stroke="#333" stroke-width="0.95"/>
<line x1="620.9" y1="314.5" x2="633.3" y2="314.5" stroke="#333" stroke-width="0.95"/>
<line x1="620.9" y1="325.5" x2="633.3" y2="325.5" stroke="#333" stroke-width="0.95"/>
<line x1="499.6" y1="286" x2="556.3" y2="273.1" stroke="#333" stroke-width="0.8"/>
<polygon points="499.6,286 503.45,284 503.94,286.14" fill="#333"/>
<polygon points="556.3,273.1 552.45,275.1 551.96,272.96" fill="#333"/>
<line x1="499.6" y1="286" x2="504.7" y2="314.7" stroke="#333" stroke-width="0.7"/>
<line x1="556.3" y1="273.1" x2="562.5" y2="302.2" stroke="#333" stroke-width="0.7"/>
<line x1="569.5" y1="273.1" x2="562.5" y2="302.2" stroke="#333" stroke-width="0.7"/>
<line x1="569.5" y1="274.4" x2="626.3" y2="286.2" stroke="#333" stroke-width="0.8"/>
<polygon points="569.5,274.4 573.84,274.18 573.39,276.33" fill="#333"/>
<polygon points="626.3,286.2 621.96,286.42 622.41,284.27" fill="#333"/>
<line x1="626.3" y1="285.6" x2="620" y2="314" stroke="#333" stroke-width="0.7"/>
<text x="0" y="0" font-size="11" fill="#333" text-anchor="middle" transform="translate(527 279.6) rotate(-12)">53</text>
<text x="0" y="0" font-size="11" fill="#333" text-anchor="middle" transform="translate(599 280.6) rotate(11) skewX(-6)">53</text>
<line x1="448" y1="298.5" x2="500" y2="298.5" stroke="#333" stroke-width="0.95"/>
<line x1="448" y1="331.5" x2="500" y2="331.5" stroke="#333" stroke-width="0.95"/>
<line x1="449.5" y1="298.5" x2="449.5" y2="331" stroke="#333" stroke-width="0.95"/>
<polygon points="449.5,298.5 450.6,302.7 448.4,302.7" fill="#333"/>
<polygon points="449.5,331 448.4,326.8 450.6,326.8" fill="#333"/>
<text x="0" y="0" font-size="10.1" text-anchor="middle" fill="#333" transform="translate(446.5 313.8) rotate(-90) scale(1.07 1)" >28</text>
<line x1="463.3" y1="303.5" x2="500" y2="303.5" stroke="#333" stroke-width="0.95"/>
<line x1="463.3" y1="325.5" x2="500" y2="325.5" stroke="#333" stroke-width="0.95"/>
<line x1="465.5" y1="303.8" x2="465.5" y2="324.8" stroke="#333" stroke-width="0.95"/>
<polygon points="465.5,303.8 466.6,308 464.4,308" fill="#333"/>
<polygon points="465.5,324.8 464.4,320.6 466.6,320.6" fill="#333"/>
<text x="0" y="0" font-size="10.1" text-anchor="middle" fill="#333" transform="translate(462.5 313.8) rotate(-90) scale(1.07 1)" >20</text>
<line x1="480.5" y1="314.7" x2="480.5" y2="355.3" stroke="#333" stroke-width="0.95"/>
<polygon points="480.5,314.6 481.6,318.8 479.4,318.8" fill="#333"/>
<polygon points="480.5,335.3 479.4,331.1 481.6,331.1" fill="#333"/>
<text x="0" y="0" font-size="10.1" text-anchor="middle" fill="#333" transform="translate(477.3 345) rotate(-90) scale(1.07 1)" >(20)</text>
<line x1="610" y1="361.5" x2="648" y2="361.5" stroke="#333" stroke-width="0.95"/>
<line x1="620" y1="345.5" x2="648" y2="345.5" stroke="#333" stroke-width="0.95"/>
<polygon points="620.5,345.5 616.3,346.6 616.3,344.4" fill="#333"/>
<polygon points="627.5,345.5 631.7,344.4 631.7,346.6" fill="#333"/>
<polygon points="620.5,361.5 616.3,362.6 616.3,360.4" fill="#333"/>
<polygon points="627.5,361.5 631.7,360.4 631.7,362.6" fill="#333"/>
<text x="0" y="0" font-size="10.1" text-anchor="middle" fill="#333" transform="translate(639.5 342.8) scale(1.07 1)" >1.6</text>
<text x="0" y="0" font-size="10.1" text-anchor="middle" fill="#333" transform="translate(639.8 358.6) scale(1.07 1)" >7.5</text>
<line x1="682.2" y1="273.5" x2="706.7" y2="273.5" stroke="#333" stroke-width="0.95"/>
<polygon points="689.8,273.5 685.6,274.6 685.6,272.4" fill="#333"/>
<polygon points="699,273.5 703.2,272.4 703.2,274.6" fill="#333"/>
<text x="0" y="0" font-size="10.1" text-anchor="middle" fill="#333" transform="translate(693.3 270.4) scale(1.07 1)" >8.5</text>
<line x1="689.5" y1="271.7" x2="689.5" y2="328" stroke="#333" stroke-width="0.95"/>
<line x1="699.5" y1="271.7" x2="699.5" y2="300" stroke="#333" stroke-width="0.95"/>
<rect x="689.8" y="299.6" width="9.2" height="29.6" rx="1.5" fill="#d4d4d4" stroke="none"/>
<path d="M699.6,291 L700.5,290.2 L704.2,290.2 L704.4,291.5 L704.4,310 Q704.4,316 700,319.5 L699.6,319.5 Z" fill="#9a9a9a" stroke="#333" stroke-width="0.9" />
<path d="M704.4,309 Q706,315 709.3,317" fill="none" stroke="#333" stroke-width="0.8" />
<path d="M700,319.5 Q705,320 709.3,324" fill="none" stroke="#333" stroke-width="0.8" />
<circle cx="694" cy="303.2" r="3.6" fill="#bbb" stroke="#333" stroke-width="1.0"/>
<line x1="691.2" y1="300.4" x2="696.8" y2="306" stroke="#333" stroke-width="0.6"/>
<line x1="691.2" y1="306" x2="696.8" y2="300.4" stroke="#333" stroke-width="0.6"/>
<circle cx="694" cy="324.6" r="3.6" fill="#bbb" stroke="#333" stroke-width="1.0"/>
<line x1="691.2" y1="321.8" x2="696.8" y2="327.4" stroke="#333" stroke-width="0.6"/>
<line x1="691.2" y1="327.4" x2="696.8" y2="321.8" stroke="#333" stroke-width="0.6"/>
<line x1="687.5" y1="314.5" x2="710.5" y2="314.5" stroke="#333" stroke-width="0.95"/>
<line x1="709.5" y1="299.6" x2="709.5" y2="329.5" stroke="#333" stroke-width="1.1"/>
<line x1="707.5" y1="300.5" x2="711.2" y2="300.5" stroke="#333" stroke-width="0.95"/>
<line x1="707.5" y1="314.5" x2="711.2" y2="314.5" stroke="#333" stroke-width="0.95"/>
<line x1="707.5" y1="324.5" x2="711.2" y2="324.5" stroke="#333" stroke-width="0.95"/>
<line x1="657.8" y1="299.5" x2="694" y2="299.5" stroke="#333" stroke-width="0.95"/>
<line x1="657.8" y1="329.5" x2="694" y2="329.5" stroke="#333" stroke-width="0.95"/>
<line x1="659.5" y1="299.6" x2="659.5" y2="329.2" stroke="#333" stroke-width="0.95"/>
<polygon points="659.5,299.6 660.6,303.8 658.4,303.8" fill="#333"/>
<polygon points="659.5,329.2 658.4,325 660.6,325" fill="#333"/>
<text x="0" y="0" font-size="10.1" text-anchor="middle" fill="#333" transform="translate(657 314) rotate(-90) scale(1.07 1)" >28</text>
<line x1="673" y1="303.5" x2="694" y2="303.5" stroke="#333" stroke-width="0.95"/>
<line x1="673" y1="324.5" x2="694" y2="324.5" stroke="#333" stroke-width="0.95"/>
<line x1="675.5" y1="303.6" x2="675.5" y2="324.2" stroke="#333" stroke-width="0.95"/>
<polygon points="675.5,303.6 676.6,307.8 674.4,307.8" fill="#333"/>
<polygon points="675.5,324.2 674.4,320 676.6,320" fill="#333"/>
<text x="0" y="0" font-size="10.1" text-anchor="middle" fill="#333" transform="translate(673 314) rotate(-90) scale(1.07 1)" >20</text>
<line x1="693" y1="328.2" x2="680" y2="348" stroke="#333" stroke-width="0.8"/>
<line x1="680" y1="348.5" x2="739.9" y2="348.5" stroke="#333" stroke-width="1"/>
<text x="688.1" y="345.8" font-size="10.6" text-anchor="start" fill="#333" textLength="21.9" lengthAdjust="spacingAndGlyphs">2·M3</text>
<path d="M0.14,0.04 L0.14,0.6 Q0.14,0.85 0.02,0.98" transform="translate(710.5 337.3) scale(7.5 9.2)" fill="none" stroke="#2a2a2a" stroke-width="1.1" vector-effect="non-scaling-stroke"/>
<path d="M0.14,0.04 L0.88,0.04 L0.88,0.9 Q0.88,0.97 0.74,0.96" transform="translate(710.5 337.3) scale(7.5 9.2)" fill="none" stroke="#2a2a2a" stroke-width="1.1" vector-effect="non-scaling-stroke"/>
<path d="M0.51,0.04 L0.51,0.98" transform="translate(710.5 337.3) scale(7.5 9.2)" fill="none" stroke="#2a2a2a" stroke-width="1.1" vector-effect="non-scaling-stroke"/>
<path d="M0.14,0.34 L0.88,0.34" transform="translate(710.5 337.3) scale(7.5 9.2)" fill="none" stroke="#2a2a2a" stroke-width="1.1" vector-effect="non-scaling-stroke"/>
<path d="M0.14,0.63 L0.88,0.63" transform="translate(710.5 337.3) scale(7.5 9.2)" fill="none" stroke="#2a2a2a" stroke-width="1.1" vector-effect="non-scaling-stroke"/>
<path d="M0.1,0.9 L0.1,0.08 L0.9,0.08 L0.9,0.9" transform="translate(719.6 337.3) scale(7.4 9.2)" fill="none" stroke="#2a2a2a" stroke-width="1.1" vector-effect="non-scaling-stroke"/>
<path d="M0.37,0.08 L0.37,0.9" transform="translate(719.6 337.3) scale(7.4 9.2)" fill="none" stroke="#2a2a2a" stroke-width="1.1" vector-effect="non-scaling-stroke"/>
<path d="M0.63,0.08 L0.63,0.9" transform="translate(719.6 337.3) scale(7.4 9.2)" fill="none" stroke="#2a2a2a" stroke-width="1.1" vector-effect="non-scaling-stroke"/>
<path d="M0.0,0.92 L1.0,0.92" transform="translate(719.6 337.3) scale(7.4 9.2)" fill="none" stroke="#2a2a2a" stroke-width="1.1" vector-effect="non-scaling-stroke"/>
<path d="M0.5,0.0 L0.5,0.14" transform="translate(729.2 337.3) scale(8.5 9.2)" fill="none" stroke="#2a2a2a" stroke-width="1.1" vector-effect="non-scaling-stroke"/>
<path d="M0.06,0.38 L0.06,0.18 L0.94,0.18 L0.94,0.38" transform="translate(729.2 337.3) scale(8.5 9.2)" fill="none" stroke="#2a2a2a" stroke-width="1.1" vector-effect="non-scaling-stroke"/>
<path d="M0.38,0.4 Q0.36,0.8 0.03,0.98" transform="translate(729.2 337.3) scale(8.5 9.2)" fill="none" stroke="#2a2a2a" stroke-width="1.1" vector-effect="non-scaling-stroke"/>
<path d="M0.6,0.4 L0.6,0.62 Q0.62,0.8 0.98,0.97" transform="translate(729.2 337.3) scale(8.5 9.2)" fill="none" stroke="#2a2a2a" stroke-width="1.1" vector-effect="non-scaling-stroke"/>
<text x="688.7" y="356.5" font-size="9.8" text-anchor="start" fill="#333" textLength="47.4" lengthAdjust="spacingAndGlyphs">countersink</text>
<line x1="462" y1="395.5" x2="496" y2="395.5" stroke="#333" stroke-width="0.95"/>
<line x1="479" y1="400.5" x2="496" y2="400.5" stroke="#333" stroke-width="0.95"/>
<line x1="462" y1="402.5" x2="660.5" y2="402.5" stroke="#333" stroke-width="0.95"/>
<line x1="490" y1="395.3" x2="615" y2="393.6" stroke="#333" stroke-width="1.0"/>
<line x1="490" y1="397.3" x2="615" y2="395.5" stroke="#333" stroke-width="1.0"/>
<path d="M497,400.4 L500,397.2 L511,397.2 L514,400.4 Z" fill="#c4c4c4" stroke="#333" stroke-width="0.8" />
<rect x="500.8" y="392" width="8" height="3.2" rx="1.2" fill="#aaa" stroke="#333" stroke-width="0.8"/>
<line x1="505.5" y1="389.5" x2="505.5" y2="419" stroke="#333" stroke-width="0.95"/>
<line x1="496.5" y1="374.8" x2="496.5" y2="402.4" stroke="#333" stroke-width="0.95"/>
<line x1="514.5" y1="374.8" x2="514.5" y2="402.4" stroke="#333" stroke-width="0.95"/>
<line x1="496" y1="376.5" x2="514.8" y2="376.5" stroke="#333" stroke-width="0.95"/>
<polygon points="496,376.5 500.2,375.4 500.2,377.6" fill="#333"/>
<polygon points="514.8,376.5 510.6,377.6 510.6,375.4" fill="#333"/>
<text x="0" y="0" font-size="10.1" text-anchor="middle" fill="#333" transform="translate(505.4 374.2) scale(1.07 1)" >16</text>
<line x1="465.5" y1="388.8" x2="465.5" y2="409" stroke="#333" stroke-width="0.95"/>
<polygon points="465.5,395.2 464.4,391 466.6,391" fill="#333"/>
<polygon points="465.5,402.4 466.6,406.6 464.4,406.6" fill="#333"/>
<text x="0" y="0" font-size="10.1" text-anchor="middle" fill="#333" transform="translate(462 392) rotate(-90) scale(1.07 1)" >7</text>
<line x1="480.5" y1="393.4" x2="480.5" y2="422.2" stroke="#333" stroke-width="0.95"/>
<polygon points="480.5,400.4 479.4,396.2 481.6,396.2" fill="#333"/>
<polygon points="480.5,402.4 481.6,406.6 479.4,406.6" fill="#333"/>
<text x="0" y="0" font-size="10.1" text-anchor="middle" fill="#333" transform="translate(478.5 415.5) rotate(-90) scale(1.07 1)" >1.2</text>
<line x1="535.5" y1="374.8" x2="535.5" y2="408.2" stroke="#333" stroke-width="0.95"/>
<polygon points="535.5,394.6 534.4,390.4 536.6,390.4" fill="#333"/>
<polygon points="535.5,396.7 536.6,400.9 534.4,400.9" fill="#333"/>
<text x="0" y="0" font-size="10.1" text-anchor="middle" fill="#333" transform="translate(533 381) rotate(-90) scale(1.07 1)" >1.6</text>
<rect x="549" y="391.6" width="26" height="4" rx="1.8" fill="#bbb" stroke="#333" stroke-width="1.1"/>
<rect x="550.2" y="396.8" width="24.6" height="2.8" rx="1.2" fill="#999" stroke="#333" stroke-width="1.1"/>
<rect x="557" y="389.4" width="11.2" height="2" rx="0.8" fill="#666" stroke="#333" stroke-width="0.9"/>
<line x1="562.5" y1="387.6" x2="562.5" y2="402.4" stroke="#333" stroke-width="0.95"/>
<path d="M624.3,392.5 L624.3,382.2 Q624.3,381.2 625.6,381.2 Q627.2,381.2 627.2,382.4 L627.2,390.5 Q627.2,393.2 623.5,393.2" fill="#ccc" stroke="#333" stroke-width="1.0" />
<rect x="614.5" y="390.3" width="9.6" height="3" rx="1.3" fill="#c4c4c4" stroke="#333" stroke-width="0.8"/>
<rect x="616" y="388" width="6.5" height="2.3" rx="0.8" fill="#aaa" stroke="#333" stroke-width="0.7"/>
<rect x="616.7" y="395.6" width="5" height="2.1" rx="0.6" fill="#aaa" stroke="#333" stroke-width="0.7"/>
<line x1="619.5" y1="384" x2="619.5" y2="418.6" stroke="#333" stroke-width="0.95"/>
<line x1="505.6" y1="418.5" x2="618.8" y2="418.5" stroke="#333" stroke-width="0.95"/>
<polygon points="505.6,418.5 509.8,417.4 509.8,419.6" fill="#333"/>
<polygon points="618.8,418.5 614.6,419.6 614.6,417.4" fill="#333"/>
<text x="0" y="0" font-size="10.1" text-anchor="middle" fill="#333" transform="translate(563.6 415.2) scale(1.07 1)" >(<tspan dx="0.6">104</tspan><tspan dx="0.8">)</tspan></text>
<line x1="622" y1="386.5" x2="660.5" y2="386.5" stroke="#333" stroke-width="0.95"/>
<line x1="624" y1="395.5" x2="645.5" y2="395.5" stroke="#333" stroke-width="0.95"/>
<line x1="642.5" y1="373.9" x2="642.5" y2="402.6" stroke="#333" stroke-width="0.95"/>
<polygon points="642.5,386 641.4,381.8 643.6,381.8" fill="#333"/>
<polygon points="642.5,395.6 643.6,399.8 641.4,399.8" fill="#333"/>
<text x="0" y="0" font-size="10.1" text-anchor="middle" fill="#333" transform="translate(640 378) rotate(-90) scale(1.07 1)" >8</text>
<line x1="656.5" y1="379" x2="656.5" y2="409" stroke="#333" stroke-width="0.95"/>
<polygon points="656.5,386 655.4,381.8 657.6,381.8" fill="#333"/>
<polygon points="656.5,402.4 657.6,406.6 655.4,406.6" fill="#333"/>
<text x="0" y="0" font-size="10.1" text-anchor="middle" fill="#333" transform="translate(654.5 394) rotate(-90) scale(1.07 1)" >15</text>
<line x1="594.5" y1="372.8" x2="594.5" y2="407" stroke="#333" stroke-width="0.95"/>
<polygon points="594.5,389.5 593.4,385.3 595.6,385.3" fill="#333"/>
<polygon points="594.5,397 595.6,401.2 593.4,401.2" fill="#333"/>
<text x="0" y="0" font-size="10.1" text-anchor="middle" fill="#333" transform="translate(590 380) rotate(-90) scale(1.07 1)" >1.6</text>
</svg></body></html>
